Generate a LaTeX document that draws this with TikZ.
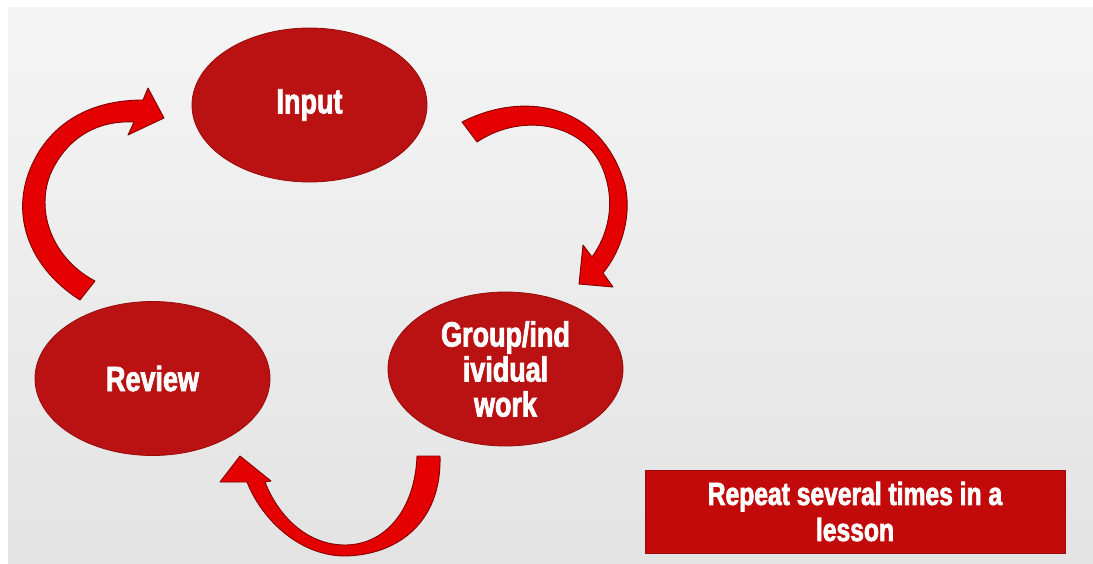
\documentclass[tikz,border=0pt]{standalone}
\usepackage{fontspec}
\usepackage{xcolor}
\usetikzlibrary{shapes.geometric}
\newfontfamily\posterfont{Liberation Sans}[FakeStretch=0.77,FakeBold=2.2]
\definecolor{stagered}{RGB}{186,18,18}
\definecolor{stageedge}{RGB}{150,12,12}
\definecolor{arrowred}{RGB}{228,0,0}
\definecolor{arrowedge}{RGB}{130,0,0}
\definecolor{notered}{RGB}{195,10,10}
\tikzset{
  stage/.style={ellipse,fill=stagered,draw=stageedge,line width=0.8pt,
    minimum width=235pt,minimum height=154pt,inner sep=0pt,align=center,
    text=white,font=\posterfont\bfseries\fontsize{35}{35}\selectfont},
  blockarrow/.style={fill=arrowred,draw=arrowedge,line width=0.9pt,line join=round},
  notebox/.style={rectangle,fill=notered,draw=stageedge,line width=0.8pt,
    minimum width=420pt,minimum height=83pt,inner sep=0pt,align=center,
    text=white,font=\posterfont\bfseries\fontsize{32}{36}\selectfont}
}
\begin{document}
\begin{tikzpicture}[x=1pt,y=-1pt]
\useasboundingbox (0,0) rectangle (1093,563);
\shade[top color=black!4,bottom color=black!11] (-2,-2) rectangle (1096,566);
\fill[white] (-2,-2) rectangle (1096,7);
\fill[white] (-2,-2) rectangle (8,566);
%---------------------------------------------------
\node[stage] (input)  at (309.5,105) {Input};
\node[stage] (review) at (152.5,378.5) {Review};
\node[stage] (group)  at (505.5,369) {Group/ind\\ividual\\work};
%---------------------------------------------------
% input -> group
\draw[blockarrow] (462,122) .. controls (520,92) and (600,100) .. (625,185)
  .. controls (632,215) and (622,250) .. (603,273)
  -- (613,287) -- (579,284) -- (583,245) -- (592,257)
  .. controls (608,235) and (615,205) .. (605,175)
  .. controls (590,125) and (525,110) .. (477,142) -- cycle;
% group -> review
\draw[blockarrow] (440,456) .. controls (442,520) and (400,555) .. (345,556)
  .. controls (300,556) and (262,520) .. (247,482)
  -- (220,482) -- (240,456) -- (271,481) -- (265,482)
  .. controls (280,520) and (310,545) .. (345,545)
  .. controls (385,545) and (415,510) .. (417,456) -- cycle;
% review -> input
\draw[blockarrow] (80,300) .. controls (25,265) and (5,205) .. (40,150)
  .. controls (65,112) and (105,100) .. (143,100)
  -- (148,88) -- (164,118) -- (128,135) -- (134,122)
  .. controls (95,120) and (65,140) .. (50,175)
  .. controls (35,215) and (55,260) .. (95,281) -- cycle;
%---------------------------------------------------
\node[notebox] (repeat) at (855,511.5) {Repeat several times in a\\lesson};
\end{tikzpicture}
\end{document}
